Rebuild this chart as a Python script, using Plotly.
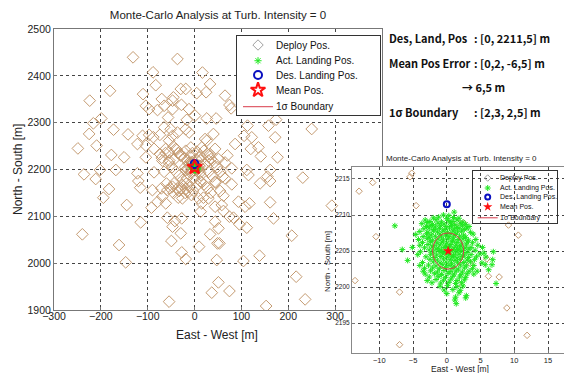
import plotly.graph_objects as go

# The page body keeps the browser's default 8 px margin, so the figure is
# sized to the remaining viewport and positions are converted with that offset.
VIEW_W, VIEW_H, OFF = 572, 373, 8
W, H = VIEW_W - OFF, VIEW_H - OFF

# ---------------- data ----------------
title_text = "Monte-Carlo Analysis at Turb. Intensity = 0"
series_names = ["Deploy Pos.", "Act. Landing Pos.", "Des. Landing Pos.", "Mean Pos.", "1σ Boundary"]
x_title = "East - West [m]"
y_title = "North - South [m]"

main_xticks = [-300, -200, -100, 0, 100, 200, 300]
main_yticks = [1900, 2000, 2100, 2200, 2300, 2400, 2500]
inset_xticks = [-10, -5, 0, 5, 10, 15]
inset_yticks = [2195, 2200, 2205, 2210, 2215]

deploy_pts = [
    (-131.3, 2439.5), (-36.6, 2436), (-88.6, 2407.5), (16.8, 2407), (-180.4, 2368), (-82.9, 2380),
    (-223.8, 2347), (-110, 2361), (-70, 2350.5), (-45.2, 2354), (-29.5, 2372), (-18.8, 2372),
    (4.6, 2363), (-65, 2336), (-47, 2347), (-28, 2338), (-104, 2336), (-97, 2329), (-79, 2327),
    (-47, 2329), (-12, 2329), (-56.6, 2311), (-16.7, 2306), (-199, 2309), (-216, 2298.6),
    (-225, 2276), (-209, 2251), (-249, 2245), (-173, 2285), (-142, 2275), (-122, 2254.4),
    (-111, 2272), (-97, 2274), (-88, 2269), (-74, 2274), (-65, 2290), (-51, 2286), (-47, 2272),
    (-54.4, 2261.5), (-36.6, 2279), (-18.8, 2286), (-11.7, 2279), (-104, 2251), (-86.5, 2244),
    (-74, 2233), (-61.5, 2244), (-54.4, 2237), (-40, 2244), (-35, 2235), (-29.5, 2229.5),
    (-18.8, 2240), (-8, 2247), (-4.6, 2235), (-104, 2226), (-150.5, 2226), (-177.6, 2231),
    (-68.7, 2219), (-54, 2219), (-44, 2221), (13, 2219),
    (33, 2382.6), (24.6, 2365), (65, 2357.6), (78, 2330.6), (74.4, 2337.7), (26, 2309), (46, 2309),
    (1, 2315), (22.4, 2265), (40.2, 2275.8), (26, 2261.5), (15.3, 2247), (33, 2233), (43.8, 2244),
    (51, 2222.4), (29.5, 2219), (22.4, 2211.7), (86.5, 2254.4), (113, 2293.6), (105.7, 2272),
    (122, 2268.7), (120, 2244), (136.3, 2247.3), (141.3, 2228), (157.7, 2293.6), (174, 2306.4),
    (172, 2268.7), (177, 2226), (250, 2286.5),
    (-236, 2189.7), (-211, 2179.7), (-201.8, 2199), (-168, 2199), (-122, 2191.8), (-120, 2175.4),
    (-116, 2161.2), (-182.6, 2158.4), (-194.7, 2139.8), (-144.8, 2124.2), (-86.5, 2194), (-90, 2156),
    (-71, 2159.8), (-58, 2156), (-47.3, 2163.3), (-43.8, 2170.5), (-36.7, 2159.8), (-26, 2166.9),
    (-33.1, 2154), (-18.8, 2158.4), (-11.7, 2152.7), (-68.7, 2142), (-61.5, 2127.7), (-79, 2131),
    (-92, 2118.5), (-26, 2138.4), (-6.7, 2145.5), (13, 2110), (-115, 2087.2), (-239.5, 2061.6),
    (-161.2, 2038.8), (-147, 2001.8), (-58, 2097.1), (-47, 2078), (-42, 2090), (-27.4, 2095.7),
    (-29.5, 2063.7), (-49.5, 2047.3), (-27.4, 2023), (-18.8, 2008.9), (9.6, 2035.2), (-54.4, 1917.8),
    (-18.8, 2198.9), (-16.7, 2181.1), (-1, 2181.1), (13.2, 2188.2), (13.2, 2174),
    (79.4, 2202.5), (111.4, 2199), (115, 2188.2), (139.9, 2170.5), (155.5, 2184.7), (161.2, 2199),
    (161.2, 2175.4), (231, 2182.6), (79.4, 2168.3), (65, 2181), (54.5, 2154), (61.6, 2144),
    (43.8, 2174), (29.5, 2138.4), (15.3, 2127.7), (18.9, 2139.8), (8.2, 2138.4), (43.8, 2120.6),
    (58, 2124.2), (61.6, 2111.4), (74.4, 2099.3), (83, 2097.1), (93.6, 2131.3), (107.8, 2120.6),
    (117.1, 2127.7), (95.7, 2082.9), (111.4, 2075.8), (161.2, 2129.9), (168.4, 2095.7), (43.8, 2088.6),
    (51, 2074.4), (33.1, 2061.6), (48.8, 2042.3), (53, 2042.3), (47.3, 2006.7), (104.3, 2004.6),
    (138.5, 2016), (207.5, 2058.7), (216.8, 1971.1), (292.9, 2122.8), (50.9, 1959), (36.7, 1937),
    (74.4, 1940.5), (236, 1922.7), (152.7, 1908.5),
    (-45, 2249), (-38, 2242), (-30, 2232), (-22, 2225), (-15, 2218), (-8, 2230), (5, 2238), (12, 2228),
    (20, 2240), (28, 2232), (35, 2222), (42, 2215), (48, 2205), (55, 2195), (60, 2185), (-55, 2215),
    (-48, 2205), (-40, 2195), (-33, 2187), (-25, 2178), (-18, 2170), (-10, 2162), (-3, 2155), (5, 2165),
    (12, 2175), (20, 2168), (28, 2160), (35, 2150), (-60, 2170), (-52, 2160), (-45, 2150), (-35, 2140),
    (-28, 2160), (-20, 2150), (-12, 2190), (22, 2210), (30, 2195), (38, 2185), (45, 2172), (-65, 2195),
    (-70, 2225), (-62, 2235), (65, 2215), (70, 2230), (3, 2222), (-20, 2205),
    (-5.19, 2215.8), (-5.45, 2215.3), (-10.98, 2214.5), (-13.0, 2213.3), (-4.55, 2211.3), (-10.5, 2207.0),
    (1.57, 2208.9), (2.47, 2208.9), (9.14, 2208.6), (10.6, 2207.2), (3.45, 2203.3), (5.93, 2203.9),
    (6.17, 2201.5), (7.76, 2201.4), (1.73, 2200.5), (-13.6, 2200.9), (-7.0, 2199.3), (8.9, 2197.1),
    (11.9, 2193.3), (-7.0, 2192.0),
]
deploy_x = [p[0] for p in deploy_pts]
deploy_y = [p[1] for p in deploy_pts]

act_pts = [
    (1.1, 2210.4),
    (-0.5, 2210.0), (0.3, 2209.9),
    (-2.0, 2209.6), (-1.2, 2209.7), (0.0, 2209.5), (1.0, 2209.65), (1.8, 2209.55),
    (-3.2, 2209.3), (-2.5, 2209.1), (-1.6, 2209.35), (-0.8, 2209.05), (0.2, 2209.25), (0.8, 2209.1), (1.5, 2209.3), (2.4, 2209.0),
    (-3.7, 2208.8), (-2.9, 2208.95), (-2.1, 2208.7), (-1.3, 2208.85), (-0.4, 2208.75), (0.5, 2208.9), (1.2, 2208.65), (2.0, 2208.85), (2.8, 2208.7),
    (-7.7, 2208.5), (-3.0, 2208.4), (-2.3, 2208.55), (-1.7, 2208.35), (-0.9, 2208.5), (-0.1, 2208.4), (0.7, 2208.55), (1.5, 2208.3), (2.3, 2208.5), (3.3, 2208.4),
    (-3.4, 2208.1), (-2.6, 2208.2), (-1.9, 2208.0), (-1.1, 2208.15), (-0.3, 2208.0), (0.4, 2208.2), (1.1, 2208.05), (1.8, 2208.15), (2.6, 2208.0), (3.0, 2208.2),
    (-4.0, 2207.7), (-2.8, 2207.6), (-2.0, 2207.8), (-1.4, 2207.65), (-0.6, 2207.75), (0.1, 2207.6), (0.9, 2207.8), (1.6, 2207.65), (2.2, 2207.75), (3.5, 2207.6),
    (-4.6, 2207.3), (-3.0, 2207.4), (-2.3, 2207.25), (-1.0, 2207.35), (-0.2, 2207.2), (0.6, 2207.4), (1.3, 2207.3), (2.5, 2207.2), (3.9, 2207.35),
    (-3.5, 2207.0), (-2.6, 2206.9), (-1.7, 2207.05), (-0.8, 2206.95), (0.3, 2207.0), (1.0, 2206.85), (1.9, 2207.05), (2.8, 2206.9),
    (-4.2, 2206.6), (-2.9, 2206.7), (-2.1, 2206.5), (-1.3, 2206.65), (-0.5, 2206.55), (0.2, 2206.7), (0.9, 2206.5), (1.7, 2206.6), (2.4, 2206.7), (3.2, 2206.5), (4.3, 2206.6),
    (-3.6, 2206.2), (-2.4, 2206.3), (-1.5, 2206.15), (-0.7, 2206.25), (0.0, 2206.1), (0.8, 2206.3), (1.5, 2206.2), (2.2, 2206.1), (3.0, 2206.25), (3.8, 2206.15),
    (-4.0, 2205.8), (-2.8, 2205.9), (-1.9, 2205.75), (-1.0, 2205.85), (-0.2, 2205.7), (0.6, 2205.9), (1.4, 2205.8), (2.1, 2205.7), (2.9, 2205.85), (4.6, 2205.8),
    (-5.1, 2205.5), (-3.3, 2205.45), (-2.2, 2205.55), (-1.3, 2205.4), (-0.4, 2205.5), (0.4, 2205.6), (1.1, 2205.45), (1.9, 2205.55), (2.7, 2205.4), (3.6, 2205.5), (5.3, 2205.5),
    (-6.6, 2205.2), (-2.6, 2205.15), (-1.6, 2205.25), (-0.8, 2205.1), (0.1, 2205.3), (0.9, 2205.15), (1.6, 2205.2), (2.4, 2205.05), (3.3, 2205.25), (4.2, 2205.1),
    (-3.9, 2204.9), (-2.0, 2204.85), (-1.1, 2204.95), (-0.3, 2204.8), (0.5, 2204.9), (1.3, 2204.85), (2.0, 2205.0), (3.0, 2204.8), (5.5, 2204.7), (6.9, 2204.9),
    (-4.3, 2204.5), (-2.4, 2204.55), (-1.5, 2204.45), (-0.6, 2204.6), (0.3, 2204.5), (1.0, 2204.4), (1.8, 2204.55), (2.6, 2204.45), (3.6, 2204.5), (4.9, 2204.6),
    (-3.1, 2204.2), (-1.9, 2204.1), (-0.9, 2204.25), (0.0, 2204.15), (0.8, 2204.2), (1.5, 2204.05), (2.3, 2204.25), (3.2, 2204.1), (4.4, 2204.2), (5.8, 2204.15),
    (-5.8, 2203.7), (-2.5, 2203.85), (-1.4, 2203.75), (-0.5, 2203.9), (0.5, 2203.8), (1.2, 2203.7), (2.0, 2203.85), (3.0, 2203.75), (4.1, 2203.8), (6.8, 2203.8),
    (-3.6, 2203.4), (-2.0, 2203.5), (-1.0, 2203.35), (-0.1, 2203.45), (0.7, 2203.3), (1.6, 2203.45), (2.5, 2203.4), (3.5, 2203.5), (5.2, 2203.35), (6.7, 2203.1),
    (-4.0, 2203.0), (-2.7, 2203.05), (-1.6, 2202.95), (-0.6, 2203.1), (0.3, 2203.0), (1.1, 2202.9), (2.0, 2203.05), (2.9, 2202.95), (4.0, 2203.0), (5.7, 2203.1),
    (-3.3, 2202.6), (-2.1, 2202.65), (-1.1, 2202.55), (-0.2, 2202.7), (0.8, 2202.6), (1.7, 2202.5), (2.6, 2202.65), (3.8, 2202.55), (6.2, 2202.4),
    (-3.5, 2202.2), (-2.4, 2202.25), (-1.4, 2202.1), (-0.4, 2202.3), (0.5, 2202.15), (1.4, 2202.25), (2.3, 2202.1), (3.3, 2202.2), (4.5, 2202.2),
    (-3.2, 2201.8), (-1.8, 2201.85), (-0.8, 2201.75), (0.2, 2201.9), (1.1, 2201.8), (2.1, 2201.7), (3.0, 2201.85), (4.0, 2201.8),
    (-2.6, 2201.4), (-1.2, 2201.45), (-0.2, 2201.35), (0.9, 2201.5), (1.9, 2201.4), (2.8, 2201.35),
    (-2.9, 2200.9), (-1.6, 2201.05), (-0.5, 2200.95), (0.6, 2201.1), (1.5, 2200.9), (2.6, 2201.0), (7.3, 2200.5),
    (-2.2, 2200.6), (-0.9, 2200.55), (0.3, 2200.65), (1.3, 2200.5), (2.2, 2200.6),
    (-1.0, 2200.1), (0.1, 2200.2), (1.5, 2200.05), (2.4, 2200.15),
    (-0.4, 2199.6), (0.9, 2199.65), (2.0, 2199.55),
    (0.0, 2199.1), (1.8, 2199.2), (2.9, 2198.8),
    (1.3, 2198.6), (2.8, 2198.5),
    (1.2, 2198.2),
    (1.4, 2197.7),
]
act_x = [p[0] for p in act_pts]
act_y = [p[1] for p in act_pts]

des_x, des_y = [0.0], [2211.5]
mean_x, mean_y = [0.2], [2205.0]
sigma_xy = [2.3, 2.5]

info_labels = ["Des, Land, Pos", "Mean Pos Error", "", "1σ Boundary"]
info_values = [": [0, 2211,5] m", ": [0,2, -6,5] m", "→ 6,5 m", ": [2,3, 2,5] m"]

# ---------------- styles ----------------
TAN = "#c49a70"
GRAYK = "#a0a0a0"
GREEN = "#1fe81f"
BLUE = "#0a10c0"
RED = "#ff1010"
SIG = "#d83a4a"
FONT = "Liberation Sans, Arial, sans-serif"
INFO_FONT = "Noto Sans CJK KR"


def PX(x):
    return (x - OFF) / W


def PY(y):
    return 1 - (y - OFF) / H


def dx(a, b):
    return [PX(a), PX(b)]


def dy(top, bottom):
    return [PY(bottom), PY(top)]


fig = go.Figure()

# ---- main plot ----
fig.add_trace(go.Scatter(x=deploy_x, y=deploy_y, mode="markers", name=series_names[0],
                         marker=dict(symbol="diamond-open", size=9, color=TAN, line=dict(width=1, color=TAN)),
                         xaxis="x", yaxis="y", showlegend=False))
fig.add_trace(go.Scatter(x=act_x, y=act_y, mode="markers", name=series_names[1],
                         marker=dict(symbol="asterisk-open", size=5, color=GREEN, line=dict(width=1, color=GREEN)),
                         xaxis="x", yaxis="y", showlegend=False))
fig.add_trace(go.Scatter(x=des_x, y=des_y, mode="markers", name=series_names[2],
                         marker=dict(symbol="circle-open", size=8, color=BLUE, line=dict(width=2, color=BLUE)),
                         xaxis="x", yaxis="y", showlegend=False))
fig.add_trace(go.Scatter(x=mean_x, y=mean_y, mode="markers", name=series_names[3],
                         marker=dict(symbol="star-open", size=11, color=RED, line=dict(width=2, color=RED)),
                         xaxis="x", yaxis="y", showlegend=False))

# ---- inset plot ----
fig.add_trace(go.Scatter(x=deploy_x, y=deploy_y, mode="markers", name=series_names[0],
                         marker=dict(symbol="diamond-open", size=5, color=TAN, line=dict(width=1, color=TAN)),
                         xaxis="x2", yaxis="y2", showlegend=False))
fig.add_trace(go.Scatter(x=act_x, y=act_y, mode="markers", name=series_names[1],
                         marker=dict(symbol="asterisk-open", size=5, color=GREEN, line=dict(width=1, color=GREEN)),
                         xaxis="x2", yaxis="y2", showlegend=False))
fig.add_trace(go.Scatter(x=des_x, y=des_y, mode="markers", name=series_names[2],
                         marker=dict(symbol="circle-open", size=6, color=BLUE, line=dict(width=2, color=BLUE)),
                         xaxis="x2", yaxis="y2", showlegend=False))
fig.add_trace(go.Scatter(x=mean_x, y=mean_y, mode="markers", name=series_names[3],
                         marker=dict(symbol="star", size=8, color=RED, line=dict(width=0)),
                         xaxis="x2", yaxis="y2", showlegend=False))

fig.add_shape(type="circle", xref="x2", yref="y2",
              x0=mean_x[0] - sigma_xy[0], x1=mean_x[0] + sigma_xy[0],
              y0=mean_y[0] - sigma_xy[1], y1=mean_y[0] + sigma_xy[1],
              line=dict(color=SIG, width=1), layer="above")


# ---- custom legends (key samples in their own small axes) ----
def add_legend(xa, ya, rows, sym_x, line_x, text_x, sizes, font_size, open_star):
    keys = [
        dict(symbol="diamond-open", size=sizes[0], color=GRAYK, line=dict(width=1, color=GRAYK)),
        dict(symbol="asterisk-open", size=sizes[1], color=GREEN, line=dict(width=1, color=GREEN)),
        dict(symbol="circle-open", size=sizes[2], color=BLUE, line=dict(width=2, color=BLUE)),
        dict(symbol="star-open" if open_star else "star", size=sizes[3], color=RED,
             line=dict(width=2 if open_star else 0, color=RED)),
    ]
    for r, mk in zip(rows[:4], keys):
        fig.add_trace(go.Scatter(x=[sym_x], y=[r], mode="markers", xaxis=xa, yaxis=ya,
                                 showlegend=False, marker=mk, hoverinfo="skip"))
    fig.add_trace(go.Scatter(x=line_x, y=[rows[4], rows[4]], mode="lines", xaxis=xa, yaxis=ya,
                             showlegend=False, line=dict(color=SIG, width=1), hoverinfo="skip"))
    for r, name in zip(rows, series_names):
        fig.add_annotation(x=text_x, y=r, xref=xa, yref=ya, text=name, showarrow=False,
                           xanchor="left", yanchor="middle",
                           font=dict(family=FONT, size=font_size, color="#111"))


add_legend("x3", "y3", [0.886, 0.687, 0.506, 0.316, 0.105], 0.147, [0.042, 0.252], 0.262,
           [8, 6, 8, 11], 10, True)
add_legend("x4", "y4", [0.865, 0.673, 0.5, 0.31, 0.1], 0.175, [0.056, 0.294], 0.30,
           [5, 5, 5, 7], 7, False)

# ---- text block on the right ----
rows_y = [38, 63, 87, 112]
for lab, val, yy in zip(info_labels, info_values, rows_y):
    info_font = dict(family=INFO_FONT, size=11, color="#111", weight="bold")
    if lab:
        fig.add_annotation(x=PX(387), y=PY(yy), xref="paper", yref="paper", text=lab,
                           showarrow=False, xanchor="left", yanchor="middle", font=info_font)
        fig.add_annotation(x=PX(472), y=PY(yy), xref="paper", yref="paper", text=val,
                           showarrow=False, xanchor="left", yanchor="middle", font=info_font)
    else:
        fig.add_annotation(x=PX(483), y=PY(yy), xref="paper", yref="paper", text=val,
                           showarrow=False, xanchor="center", yanchor="middle", font=info_font)

# ---- titles ----
fig.add_annotation(x=PX(461), y=PY(158), xref="paper", yref="paper", text=title_text,
                   showarrow=False, xanchor="center", yanchor="middle",
                   font=dict(family=FONT, size=8, color="#222"))
fig.add_annotation(x=PX(217), y=PY(335), xref="paper", yref="paper", text=x_title,
                   showarrow=False, xanchor="center", yanchor="middle",
                   font=dict(family=FONT, size=12, color="#222"))
fig.add_annotation(x=PX(18), y=PY(170), xref="paper", yref="paper", text=y_title, textangle=-90,
                   showarrow=False, xanchor="center", yanchor="middle",
                   font=dict(family=FONT, size=12, color="#222"))
fig.add_annotation(x=PX(460), y=PY(369), xref="paper", yref="paper", text=x_title,
                   showarrow=False, xanchor="center", yanchor="middle",
                   font=dict(family=FONT, size=8.5, color="#222"))
fig.add_annotation(x=PX(327), y=PY(262), xref="paper", yref="paper", text=y_title, textangle=-90,
                   showarrow=False, xanchor="center", yanchor="middle",
                   font=dict(family=FONT, size=8, color="#222"))

grid = dict(showgrid=True, griddash="dot", gridcolor="#444", gridwidth=1, zeroline=False,
            showline=True, mirror=True, ticks="inside", ticklen=3, tickcolor="#777",
            automargin=False)
leg_ax = dict(range=[0, 1], showgrid=False, zeroline=False, showticklabels=False, ticks="",
              showline=True, mirror=True, linecolor="#333", linewidth=1, fixedrange=True,
              automargin=False)

fig.update_layout(
    width=W, height=H,
    margin=dict(l=0, r=0, t=0, b=0, autoexpand=False),
    paper_bgcolor="white", plot_bgcolor="white",
    font=dict(family=FONT, color="#222"),
    showlegend=False,
    title=dict(text=title_text, x=PX(218), y=PY(15), xanchor="center", yanchor="middle",
               xref="paper", yref="paper", automargin=False,
               font=dict(family=FONT, size=11.5, color="#222")),
    xaxis=dict(domain=dx(54, 382), range=[-300, 400], tickvals=main_xticks, anchor="y",
               linecolor="#777", tickfont=dict(size=10.5), ticklabelstandoff=-4, **grid),
    yaxis=dict(domain=dy(29, 310), range=[1900, 2500], tickvals=main_yticks, anchor="x",
               linecolor="#777", tickfont=dict(size=10.5), **grid),
    xaxis2=dict(domain=dx(352, 570), range=[-14.05, 18.26], tickvals=inset_xticks, anchor="y2",
                linecolor="#888", tickfont=dict(size=7.5), **grid),
    yaxis2=dict(domain=dy(167, 353), range=[2190.85, 2216.66], tickvals=inset_yticks, anchor="x2",
                linecolor="#888", tickfont=dict(size=6.5), **grid),
    xaxis3=dict(domain=dx(237, 380), anchor="y3", **leg_ax),
    yaxis3=dict(domain=dy(36, 115), anchor="x3", **leg_ax),
    xaxis4=dict(domain=dx(473, 557), anchor="y4", **leg_ax),
    yaxis4=dict(domain=dy(171, 223), anchor="x4", **leg_ax),
)

fig.write_html("out.html")
